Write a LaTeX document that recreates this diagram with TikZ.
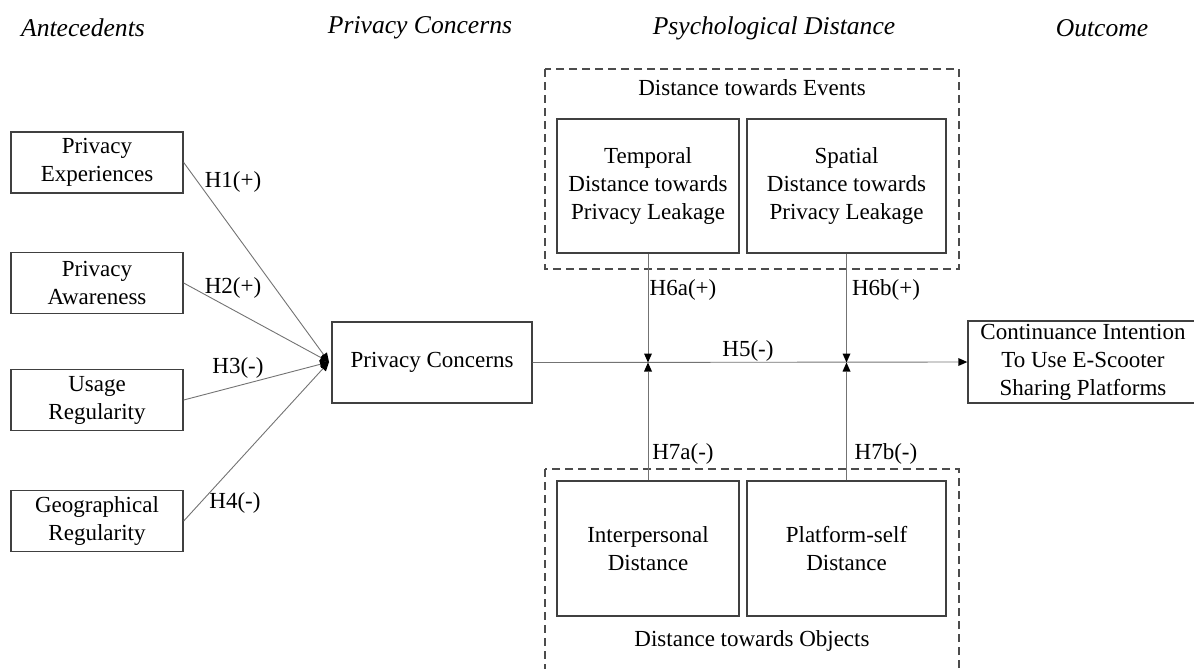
\documentclass[tikz,border=0pt]{standalone}
\usepackage{fontspec}
\setmainfont{Liberation Serif}
\usetikzlibrary{arrows.meta}
\begin{document}
\begin{tikzpicture}[x=0.5pt,y=-0.5pt,
  box/.style={draw=black!75, line width=0.7pt, align=center, inner sep=0pt,
    font=\fontsize{11.5}{14}\selectfont},
  grp/.style={draw=black!70, line width=0.6pt, dash pattern=on 4pt off 2.5pt},
  conn/.style={draw=black!55, line width=0.45pt},
  tip/.style={-{Triangle[length=4.5pt,width=4pt,fill=black,line width=0pt]}},
  lbl/.style={font=\fontsize{11.5}{14}\selectfont, inner sep=0pt},
  hdr/.style={font=\fontsize{12.8}{15}\selectfont\itshape, inner sep=0pt}]
\useasboundingbox (0,0) rectangle (1194,669);
\clip (0,0) rectangle (1194,669);
% headers
\node[hdr] (h1) at (83,28) {Antecedents};
\node[hdr] (h2) at (420,28) {Privacy Concerns};
\node[hdr] (h3) at (774,28) {Psychological Distance};
\node[hdr] (h4) at (1102,28) {Outcome};
% dashed groups
\draw[grp] (545,69) rectangle (959,269);
\draw[grp] (545,469) rectangle (959,680);
\node[lbl] (gev) at (752,88) {Distance towards Events};
\node[lbl] (gob) at (752,641) {Distance towards Objects};
% left boxes
\node[box, minimum width=86pt, minimum height=30.5pt] (pe) at (97,162.5) {Privacy\\Experiences};
\node[box, minimum width=86pt, minimum height=30.5pt] (pa) at (97,283) {Privacy\\Awareness};
\node[box, minimum width=86pt, minimum height=30.5pt] (ur) at (97,400) {Usage\\Regularity};
\node[box, minimum width=86pt, minimum height=30.5pt] (gr) at (97,521) {Geographical\\Regularity};
% privacy concerns
\node[box, minimum width=100pt, minimum height=40.5pt] (pc) at (432,362.5) {Privacy Concerns};
% distance boxes
\node[box, minimum width=91pt, minimum height=67pt] (td) at (648,186) {Temporal\\Distance towards\\Privacy Leakage};
\node[box, minimum width=99.5pt, minimum height=67pt] (sd) at (846.5,186) {Spatial\\Distance towards\\Privacy Leakage};
\node[box, minimum width=91pt, minimum height=67.5pt] (ip) at (648,548.5) {Interpersonal\\Distance};
\node[box, minimum width=99.5pt, minimum height=67.5pt] (ps) at (846.5,548.5) {Platform-self\\Distance};
% outcome
\node[box, minimum width=115pt, minimum height=41pt] (ci) at (1083,362) {Continuance Intention\\To Use E-Scooter\\Sharing Platforms};
% connectors
\coordinate (conv) at (329,362);
\draw[conn,tip] (pe.east) -- (conv);
\draw[conn,tip] (pa.east) -- (conv);
\draw[conn,tip] (ur.east) -- (conv);
\draw[conn,tip] (gr.east) -- (conv);
\draw[conn,tip] (pc.east) -- (ci.west);
\coordinate (m1) at (td.south |- pc.east);
\coordinate (m2) at (sd.south |- pc.east);
\draw[conn,tip] (td.south) -- (m1);
\draw[conn,tip] (sd.south) -- (m2);
\draw[conn,tip] (ip.north) -- (m1);
\draw[conn,tip] (ps.north) -- (m2);
% labels
\node[lbl] (l1) at (233,182) {H1(+)};
\node[lbl] (l2) at (233,288) {H2(+)};
\node[lbl] (l3) at (238,368) {H3(-)};
\node[lbl] (l4) at (235,503) {H4(-)};
\node[lbl] (l5) at (748,351) {H5(-)};
\node[lbl] (l6a) at (683,290) {H6a(+)};
\node[lbl] (l6b) at (886,290) {H6b(+)};
\node[lbl] (l7a) at (683,454) {H7a(-)};
\node[lbl] (l7b) at (886,454) {H7b(-)};
\end{tikzpicture}
\end{document}
